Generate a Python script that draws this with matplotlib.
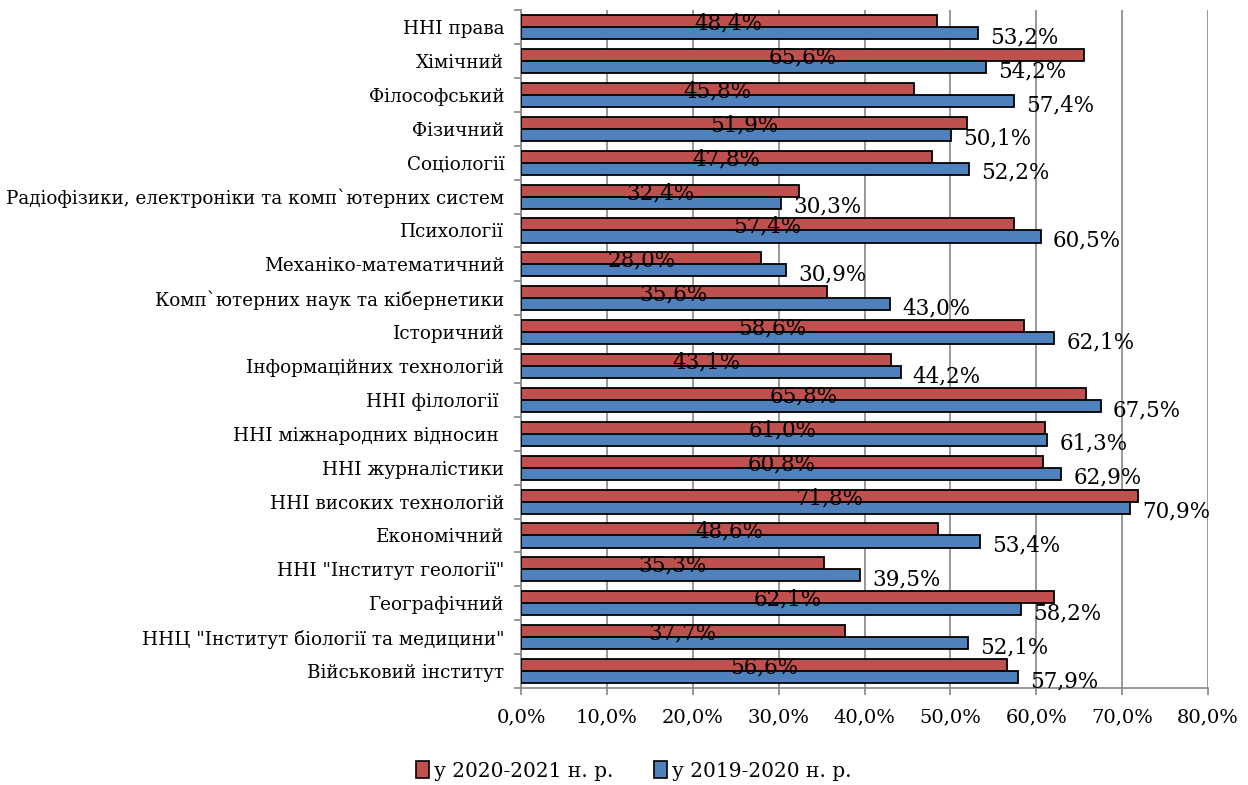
import numpy as np
import matplotlib
matplotlib.use("Agg")
import matplotlib.pyplot as plt
from matplotlib.patches import Patch
from matplotlib.ticker import FixedLocator, MultipleLocator, FuncFormatter

# Дані (зверху вниз)
categories = [
    "ННІ права",
    "Хімічний",
    "Філософський",
    "Фізичний",
    "Соціології",
    "Радіофізики, електроніки та комп`ютерних систем",
    "Психології",
    "Механіко-математичний",
    "Комп`ютерних наук та кібернетики",
    "Історичний",
    "Інформаційних технологій",
    "ННІ філології ",
    "ННІ міжнародних відносин ",
    "ННІ журналістики",
    "ННІ високих технологій",
    "Економічний",
    "ННІ \"Інститут геології\"",
    "Географічний",
    "ННЦ \"Інститут біології та медицини\"",
    "Військовий інститут",
]
vals_2020_2021 = [48.4, 65.6, 45.8, 51.9, 47.8, 32.4, 57.4, 28.0, 35.6, 58.6,
                  43.1, 65.8, 61.0, 60.8, 71.8, 48.6, 35.3, 62.1, 37.7, 56.6]
vals_2019_2020 = [53.2, 54.2, 57.4, 50.1, 52.2, 30.3, 60.5, 30.9, 43.0, 62.1,
                  44.2, 67.5, 61.3, 62.9, 70.9, 53.4, 39.5, 58.2, 52.1, 57.9]
legend_labels = ["у 2020-2021 н. р.", "у 2019-2020 н. р."]

RED = "#C0504D"
BLUE = "#4F81BD"
FONT = "DejaVu Serif"

plt.rcParams['font.family'] = FONT

fig = plt.figure(figsize=(12.48, 7.85), dpi=100)
ax = fig.add_axes([0.4175, 0.1236, 0.5505, 0.8634])

n = len(categories)
y = np.arange(n)[::-1].astype(float)
h = 0.355

ax.barh(y + h / 2, vals_2020_2021, height=h, color=RED, edgecolor="black",
        linewidth=1.3, zorder=3)
ax.barh(y - h / 2, vals_2019_2020, height=h, color=BLUE, edgecolor="black",
        linewidth=1.3, zorder=3)

fmt = lambda v: f"{v:.1f}%".replace(".", ",")

for yi, v in zip(y, vals_2020_2021):
    ax.text(v / 2, yi + h / 2 - 0.07, fmt(v), ha="center", va="center",
            fontsize=15.5, color="black", zorder=4)
for yi, v in zip(y, vals_2019_2020):
    ax.text(v + 1.4, yi - h / 2 - 0.12, fmt(v), ha="left", va="center",
            fontsize=15.5, color="black", zorder=4)

ax.set_xlim(0, 80)
ax.set_ylim(-0.5, n - 0.5)
ax.xaxis.set_major_locator(MultipleLocator(10))
ax.xaxis.set_major_formatter(FuncFormatter(lambda v, p: fmt(v)))
ax.grid(axis="x", color="#868686", linewidth=1.2, zorder=0)

ax.set_yticks(y)
ax.set_yticklabels(categories, fontsize=13.2)
ax.yaxis.set_minor_locator(FixedLocator(np.arange(-0.5, n, 1.0)))
ax.tick_params(axis="y", which="major", length=0, pad=12)
ax.tick_params(axis="y", which="minor", length=5, color="#868686", width=1.2)
ax.tick_params(axis="x", length=5, color="#868686", width=1.2, pad=10,
               labelsize=14)

for s in ["top", "right"]:
    ax.spines[s].set_visible(False)
for s in ["left", "bottom"]:
    ax.spines[s].set_color("#868686")
    ax.spines[s].set_linewidth(1.2)

handles = [Patch(facecolor=RED, edgecolor="black", linewidth=1.2),
           Patch(facecolor=BLUE, edgecolor="black", linewidth=1.2)]
fig.legend(handles, legend_labels, loc="center", bbox_to_anchor=(0.508, 0.018),
           ncol=2, frameon=False, fontsize=14.5, handlelength=0.65,
           handleheight=0.9, handletextpad=0.25, columnspacing=2.0)

fig.savefig("out.png", dpi=100)
